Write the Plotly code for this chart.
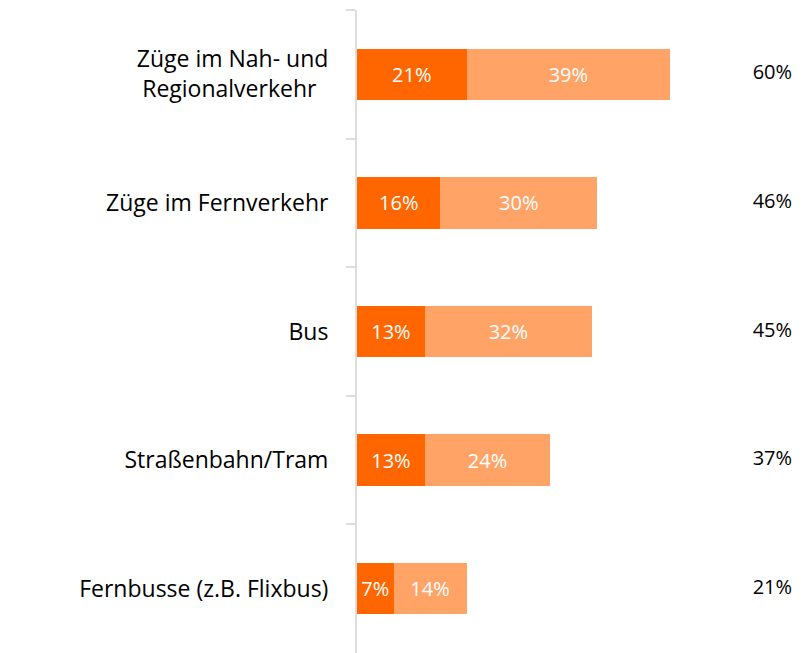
import plotly.graph_objects as go

categories = ["Züge im Nah- und<br>Regionalverkehr\u00a0\u00a0", "Züge im Fernverkehr", "Bus",
              "Straßenbahn/Tram", "Fernbusse (z.B. Flixbus)"]
dark_vals = [21, 16, 13, 13, 7]
light_vals = [39, 30, 32, 24, 14]
totals = [60, 46, 45, 37, 21]
total_pos = [79.6, 79.6, 79.6, 79.6, 79.6]

DARK = "#FF6600"
LIGHT = "#FFA366"
FONT = "Open Sans"

fig = go.Figure()
for vals, col in ((dark_vals, DARK), (light_vals, LIGHT)):
    fig.add_trace(go.Bar(
        y=categories, x=vals, orientation="h",
        marker=dict(color=col, line=dict(width=0)),
        text=[f"{v}%" for v in vals], textposition="inside",
        insidetextanchor="middle", constraintext="none",
        textfont=dict(color="white", size=20, family=FONT),
        hoverinfo="skip", showlegend=False,
    ))
fig.add_trace(go.Scatter(
    y=categories, x=total_pos, mode="text",
    text=[f"{v}%" for v in totals], textposition="middle center",
    textfont=dict(color="black", size=20, family=FONT),
    hoverinfo="skip", showlegend=False,
))

fig.update_layout(
    width=803, height=645,
    barmode="stack", bargap=0.6,
    margin=dict(l=349, r=0, t=2, b=0),
    plot_bgcolor="white", paper_bgcolor="white",
    uniformtext=dict(minsize=20, mode="show"),
    font=dict(family=FONT, color="black"),
    xaxis=dict(range=[0, 87], visible=False, showgrid=False, zeroline=False),
    yaxis=dict(
        autorange="reversed", showgrid=False, zeroline=False,
        showline=True, linecolor="#DDDDDD", linewidth=2,
        ticks="outside", tickson="boundaries", ticklen=9, tickcolor="#DDDDDD", tickwidth=2,
        ticklabelstandoff=22,
        tickfont=dict(size=23, color="black", family=FONT),
    ),
)

fig.write_html("out.html")
